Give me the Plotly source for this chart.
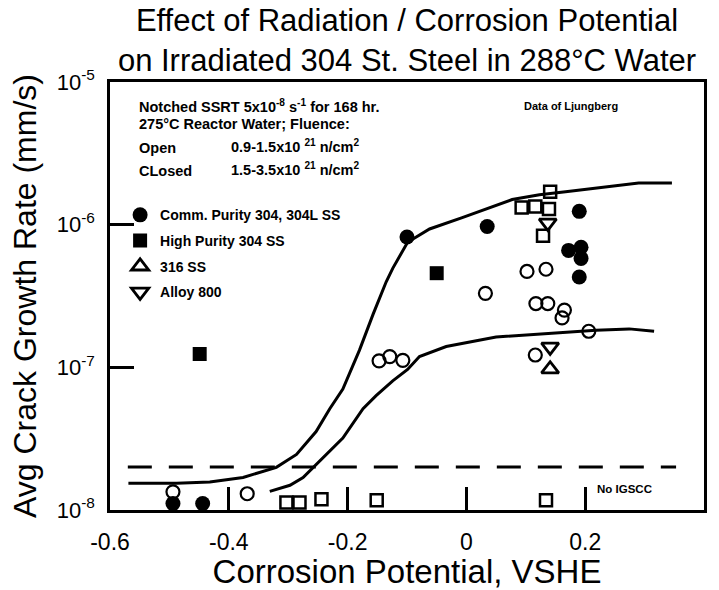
import plotly.graph_objects as go

# ---------------- data ----------------
comm_closed_x = [-0.10, 0.035, 0.19, 0.172, 0.193, 0.193, 0.19, -0.494, -0.444]
comm_closed_y = [8.2e-7, 9.7e-7, 1.24e-6, 6.6e-7, 6.95e-7, 5.8e-7, 4.3e-7, 1.11e-8, 1.11e-8]

comm_open_x = [0.102, 0.134, 0.032, 0.117, 0.137, 0.165, 0.161, 0.206, 0.116,
               -0.147, -0.129, -0.107, -0.494, -0.369]
comm_open_y = [4.7e-7, 4.87e-7, 3.3e-7, 2.8e-7, 2.8e-7, 2.52e-7, 2.22e-7, 1.79e-7, 1.22e-7,
               1.11e-7, 1.19e-7, 1.12e-7, 1.34e-8, 1.30e-8]

hp_closed_x = [-0.05, -0.449]
hp_closed_y = [4.57e-7, 1.24e-7]

hp_open_x = [0.141, 0.093, 0.116, 0.139, 0.129, -0.303, -0.281, -0.244, -0.151, 0.134]
hp_open_y = [1.70e-6, 1.32e-6, 1.34e-6, 1.29e-6, 8.35e-7, 1.13e-8, 1.13e-8, 1.19e-8, 1.17e-8, 1.17e-8]

ss316_x = [0.141]
ss316_y = [9.7e-8]

alloy800_x = [0.137, 0.141]
alloy800_y = [1.03e-6, 1.39e-7]

upper_x = [-0.569, -0.488, -0.432, -0.376, -0.32, -0.286, -0.253, -0.23, -0.208, -0.18,
           -0.157, -0.135, -0.124, -0.099, -0.062, -0.007, 0.077, 0.123, 0.167, 0.245, 0.29, 0.346]
upper_y = [1.54e-8, 1.54e-8, 1.57e-8, 1.69e-8, 1.99e-8, 2.45e-8, 3.55e-8, 5.13e-8, 7.05e-8, 1.32e-7,
           2.36e-7, 3.98e-7, 4.94e-7, 7.53e-7, 9.33e-7, 1.12e-6, 1.50e-6, 1.62e-6, 1.70e-6, 1.87e-6,
           1.96e-6, 1.96e-6]

lower_x = [-0.331, -0.297, -0.275, -0.247, -0.208, -0.174, -0.152, -0.124, -0.099, -0.079,
           -0.034, 0.05, 0.134, 0.218, 0.274, 0.316]
lower_y = [1.35e-8, 1.49e-8, 1.69e-8, 2.21e-8, 3.19e-8, 5.13e-8, 6.34e-8, 8.04e-8, 9.66e-8, 1.19e-7,
           1.40e-7, 1.63e-7, 1.72e-7, 1.82e-7, 1.86e-7, 1.79e-7]

threshold_x = [-0.57, 0.353]
threshold_y = [2e-8, 2e-8]

x_ticks = [-0.6, -0.4, -0.2, 0, 0.2, 0.4]
x_ticktext = ["-0.6", "-0.4", "-0.2", "0", "0.2", "0.4"]
y_ticks = [1e-8, 1e-7, 1e-6, 1e-5]
y_ticktext = ["10<sup>-8</sup>", "10<sup>-7</sup>", "10<sup>-6</sup>", "10<sup>-5</sup>"]

FONT = "Liberation Sans, Arial, Helvetica, sans-serif"
BLACK = "#000000"

fig = go.Figure()

# curves
fig.add_trace(go.Scatter(x=upper_x, y=upper_y, mode="lines", showlegend=False,
                         line=dict(color=BLACK, width=3)))
fig.add_trace(go.Scatter(x=lower_x, y=lower_y, mode="lines", showlegend=False,
                         line=dict(color=BLACK, width=3)))
fig.add_trace(go.Scatter(x=threshold_x, y=threshold_y, mode="lines", showlegend=False,
                         line=dict(color=BLACK, width=3, dash="24px,17px")))

# markers
fig.add_trace(go.Scatter(x=comm_open_x, y=comm_open_y, mode="markers", showlegend=False,
                         marker=dict(symbol="circle-open", size=13, color=BLACK,
                                     line=dict(width=2.2, color=BLACK))))
fig.add_trace(go.Scatter(x=hp_open_x, y=hp_open_y, mode="markers", showlegend=False,
                         marker=dict(symbol="square-open", size=12, color=BLACK,
                                     line=dict(width=2.5, color=BLACK))))
fig.add_trace(go.Scatter(x=comm_closed_x, y=comm_closed_y, mode="markers",
                         name="Comm. Purity 304, 304L SS", legendgroup="a",
                         marker=dict(symbol="circle", size=15, color=BLACK)))
fig.add_trace(go.Scatter(x=hp_closed_x, y=hp_closed_y, mode="markers",
                         name="High Purity 304 SS", legendgroup="b",
                         marker=dict(symbol="square", size=14, color=BLACK)))
fig.add_trace(go.Scatter(x=ss316_x, y=ss316_y, mode="markers",
                         name="316 SS", legendgroup="c",
                         marker=dict(symbol="triangle-up-open", size=15, color=BLACK,
                                     line=dict(width=2.8, color=BLACK))))
fig.add_trace(go.Scatter(x=alloy800_x, y=alloy800_y, mode="markers",
                         name="Alloy 800", legendgroup="d",
                         marker=dict(symbol="triangle-down-open", size=15, color=BLACK,
                                     line=dict(width=2.8, color=BLACK))))

ann_font = dict(family=FONT, size=14.5, color=BLACK, weight="bold")
annotations = [
    dict(text="Notched SSRT 5x10<sup>-8</sup> s<sup>-1</sup> for 168 hr.", x=0.045, y=0.943),
    dict(text="275°C Reactor Water; Fluence:", x=0.045, y=0.902),
    dict(text="Open", x=0.045, y=0.845),
    dict(text="0.9-1.5x10 <sup>21</sup> n/cm<sup>2</sup>", x=0.201, y=0.850),
    dict(text="CLosed", x=0.045, y=0.792),
    dict(text="1.5-3.5x10 <sup>21</sup> n/cm<sup>2</sup>", x=0.201, y=0.797),
]
layout_ann = []
for a in annotations:
    layout_ann.append(dict(text=a["text"], x=a["x"], y=a["y"], xref="paper", yref="paper",
                           xanchor="left", yanchor="middle", showarrow=False, font=ann_font))
layout_ann.append(dict(text="Data of Ljungberg", x=0.858, y=0.945, xref="paper", yref="paper",
                       xanchor="right", yanchor="middle", showarrow=False,
                       font=dict(family=FONT, size=11, color=BLACK, weight="bold")))
layout_ann.append(dict(text="No IGSCC", x=0.817, y=0.048, xref="paper", yref="paper",
                       xanchor="left", yanchor="middle", showarrow=False,
                       font=dict(family=FONT, size=11.5, color=BLACK, weight="bold")))

fig.update_layout(
    width=719, height=590,
    margin=dict(l=110, r=12, t=82, b=70),
    paper_bgcolor="white", plot_bgcolor="white",
    font=dict(family=FONT, color=BLACK),
    title=dict(text="Effect of Radiation / Corrosion Potential<br>on Irradiated 304 St. Steel in 288°C Water",
               x=0.5, xref="paper", xanchor="center", y=1 - 31 / 590, yref="container", yanchor="top",
               font=dict(family=FONT, size=31, color=BLACK)),
    showlegend=True,
    legend=dict(x=0.017, y=0.726, xanchor="left", yanchor="top", bgcolor="rgba(0,0,0,0)",
                font=dict(family=FONT, size=14, color=BLACK, weight="bold"), tracegroupgap=4.5,
                itemsizing="trace"),
    annotations=layout_ann,
)
fig.update_xaxes(range=[-0.6, 0.4], tickvals=x_ticks, ticktext=x_ticktext,
                 ticks="inside", ticklen=23, tickwidth=2.5, tickcolor=BLACK,
                 showline=True, linewidth=2.5, linecolor=BLACK, mirror=True,
                 showgrid=False, zeroline=False, ticklabelstandoff=10,
                 tickfont=dict(family=FONT, size=23, color=BLACK),
                 title=dict(text="Corrosion Potential, VSHE", standoff=0,
                            font=dict(family=FONT, size=33, color=BLACK)))
fig.update_yaxes(type="log", range=[-8, -5], tickvals=y_ticks, ticktext=y_ticktext,
                 ticks="inside", ticklen=24, tickwidth=2.5, tickcolor=BLACK,
                 showline=True, linewidth=2.5, linecolor=BLACK, mirror=True,
                 showgrid=False, zeroline=False, ticklabelstandoff=8,
                 tickfont=dict(family=FONT, size=22, color=BLACK),
                 title=dict(text="Avg Crack Growth Rate (mm/s)", standoff=11,
                            font=dict(family=FONT, size=32, color=BLACK)))

fig.write_html("out.html")
